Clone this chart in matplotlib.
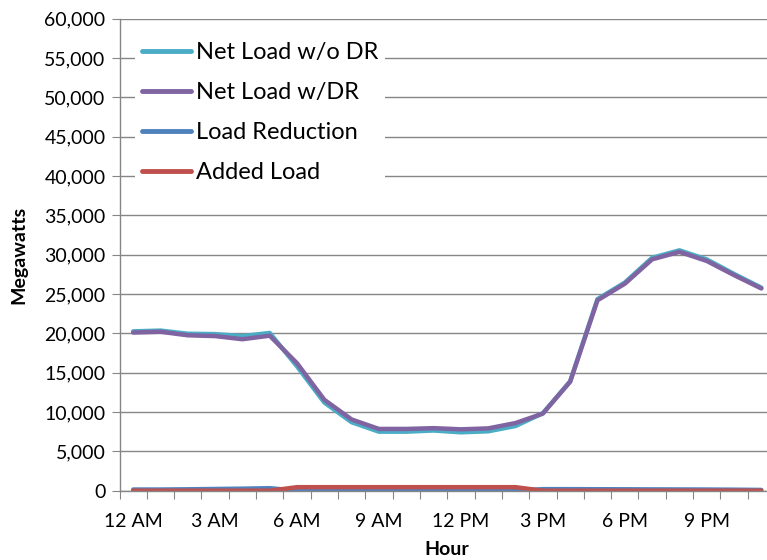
import matplotlib.pyplot as plt
import matplotlib.ticker as mticker
import numpy as np

plt.rcParams['font.family'] = ['Lato', 'DejaVu Sans']

hours = ['12 AM', '1 AM', '2 AM', '3 AM', '4 AM', '5 AM', '6 AM', '7 AM', '8 AM',
         '9 AM', '10 AM', '11 AM', '12 PM', '1 PM', '2 PM', '3 PM', '4 PM', '5 PM',
         '6 PM', '7 PM', '8 PM', '9 PM', '10 PM', '11 PM']

net_wo_dr = [20250, 20350, 19950, 19900, 19650, 20050, 15800, 11200, 8700, 7500,
             7500, 7650, 7420, 7550, 8220, 9850, 13900, 24350, 26450, 29600,
             30550, 29400, 27550, 25800]
net_w_dr = [20100, 20200, 19750, 19650, 19250, 19700, 16200, 11550, 9050, 7850,
            7850, 7950, 7800, 7920, 8600, 9800, 13850, 24200, 26300, 29400,
            30350, 29200, 27400, 25700]
load_reduction = [150, 150, 180, 220, 260, 320, 0, 0, 0, 0, 0, 0, 0, 0, 0,
                  200, 200, 190, 180, 170, 160, 150, 130, 100]
added_load = [0, 0, 0, 0, 0, 0, 450, 450, 450, 450, 450, 450, 450, 450, 450,
              0, 0, 0, 0, 0, 0, 0, 0, 0]

x = np.arange(len(hours))
grey = '#868686'

fig = plt.figure(figsize=(7.67, 5.6), dpi=100)
ax = fig.add_axes([119.5 / 767, 69.3 / 560, 655.5 / 767, 472.1 / 560])

ax.plot(x, net_wo_dr, color='#4BACC6', lw=3.2, label='Net Load w/o DR', solid_capstyle='round')
ax.plot(x, net_w_dr, color='#8064A2', lw=3.2, label='Net Load w/DR', solid_capstyle='round')
ax.plot(x, load_reduction, color='#4F81BD', lw=3.2, label='Load Reduction', solid_capstyle='round')
ax.plot(x, added_load, color='#C0504D', lw=3.2, label='Added Load', solid_capstyle='round')

ax.set_xlim(-0.5, len(hours) - 0.5)
ax.set_ylim(0, 60000)
ax.yaxis.set_major_locator(mticker.MultipleLocator(5000))
ax.yaxis.set_major_formatter(mticker.FuncFormatter(lambda v, p: f'{int(v):,}'))
ax.grid(axis='y', color=grey, lw=1.0)
ax.set_axisbelow(True)

# ticks at category boundaries, labels every 3 hours at centres
ax.set_xticks(np.arange(-0.5, len(hours), 1.0))
ax.set_xticklabels([])
ax.set_xticks(x[::3], minor=True)
ax.set_xticklabels(hours[::3], minor=True)
ax.tick_params(axis='x', which='major', length=6, color=grey, direction='out')
ax.tick_params(axis='x', which='minor', length=0, pad=16, labelsize=14)
ax.tick_params(axis='y', length=6, color=grey, labelsize=14, pad=4)

for s in ['top', 'right']:
    ax.spines[s].set_visible(False)
for s in ['left', 'bottom']:
    ax.spines[s].set_color(grey)
    ax.spines[s].set_linewidth(1.0)

ax.set_ylabel('Megawatts', fontsize=14, fontweight='bold')
ax.yaxis.set_label_coords(-0.141, 0.5)
ax.set_xlabel('Hour', fontsize=14, fontweight='bold', labelpad=8)

leg = ax.legend(loc='upper left', bbox_to_anchor=(0.005, 0.99), fontsize=17,
                frameon=True, framealpha=1, edgecolor='none', facecolor='white',
                handlelength=2.1, handletextpad=0.2, labelspacing=0.8,
                borderpad=0.3, fancybox=False)
for h in leg.get_lines():
    h.set_linewidth(3.5)

fig.savefig('out.png', dpi=100)
